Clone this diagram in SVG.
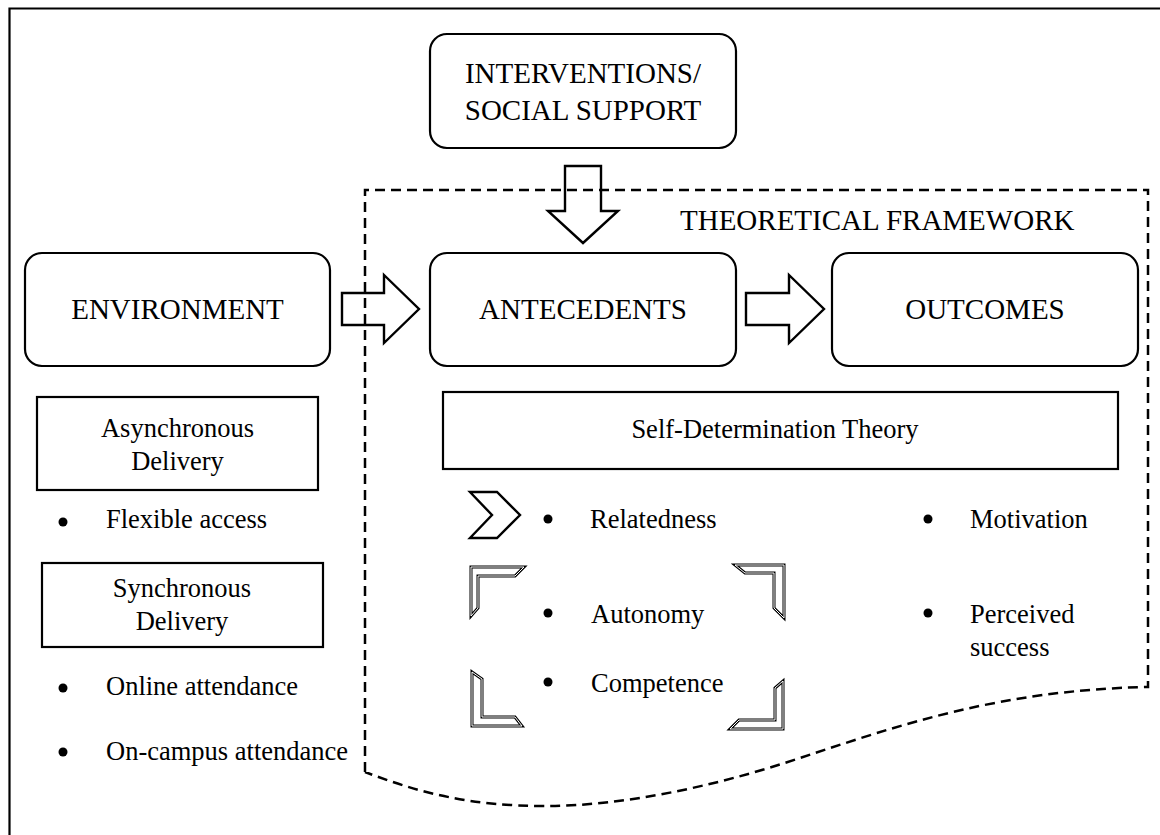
<svg xmlns="http://www.w3.org/2000/svg" width="1160" height="835" viewBox="0 0 1160 835">
<style>
text{font-family:"Liberation Serif","Times New Roman",serif;fill:#000}
.big{font-size:29px}
.sm{font-size:26.5px}
.mid{text-anchor:middle}
.box{fill:#fff;stroke:#000;stroke-width:2.2}
.arrow{fill:none;stroke:#000;stroke-width:2.4}
.dash{fill:none;stroke:#000;stroke-width:2.5;stroke-dasharray:10 6}
.brk-o{fill:#fff;stroke:#000;stroke-width:3}
.brk-i{fill:none;stroke:#fff;stroke-width:1}
</style>
<defs>
<circle id="dot" r="4.5" fill="#000"/>
</defs>
<rect width="1160" height="835" fill="#fff"/>
<path d="M9.5,835 V8.5 H1160" fill="none" stroke="#000" stroke-width="2.2"/>

<g id="framework">
<path class="dash" d="M365,772 L365,190 L1148,190 L1148,687 C1000,690 900,725 800,758 C710,788 620,806 545,806 C470,806 420,793 365,772"/>
<text class="big" x="680" y="230">THEORETICAL FRAMEWORK</text>
</g>

<g id="interventions">
<rect class="box" x="430" y="34" width="306" height="114" rx="17"/>
<text class="big mid" x="583" y="83">INTERVENTIONS/</text>
<text class="big mid" x="583" y="120">SOCIAL SUPPORT</text>
</g>

<g id="environment">
<rect class="box" x="25" y="253" width="305" height="113" rx="17"/>
<text class="big mid" x="177.5" y="319">ENVIRONMENT</text>
</g>

<g id="antecedents">
<rect class="box" x="430" y="253" width="306" height="113" rx="17"/>
<text class="big mid" x="583" y="319">ANTECEDENTS</text>
</g>

<g id="outcomes">
<rect class="box" x="832" y="253" width="306" height="113" rx="17"/>
<text class="big mid" x="985" y="319">OUTCOMES</text>
</g>

<g id="connectors">
<path class="arrow" d="M565,166 H601 V211 H618 L583,243 L548,211 H565 Z"/>
<path class="arrow" d="M342,293 H384 V275 L419,309 L384,343 V325 H342 Z"/>
<path class="arrow" d="M746,293 H789 V275 L824,309 L789,343 V325 H746 Z"/>
</g>

<g id="async">
<rect class="box" x="37" y="397" width="281" height="93"/>
<text class="sm mid" x="177.5" y="437">Asynchronous</text>
<text class="sm mid" x="177.5" y="470">Delivery</text>
</g>
<g id="flexible">
<use href="#dot" x="63" y="522"/>
<text class="sm" x="106" y="528">Flexible access</text>
</g>

<g id="sync">
<rect class="box" x="42" y="563" width="281" height="84"/>
<text class="sm mid" x="182" y="597">Synchronous</text>
<text class="sm mid" x="182" y="630">Delivery</text>
</g>
<g id="online">
<use href="#dot" x="63" y="688"/>
<text class="sm" x="106" y="695">Online attendance</text>
</g>
<g id="oncampus">
<use href="#dot" x="63" y="752"/>
<text class="sm" x="106" y="760">On-campus attendance</text>
</g>

<g id="sdt">
<rect class="box" x="443" y="392" width="675" height="77"/>
<text class="sm mid" x="775" y="438">Self-Determination Theory</text>
</g>

<g id="relatedness">
<path d="M470,492 H497 L520,515 L497,538 H470 L492,515 Z" fill="none" stroke="#000" stroke-width="2.4"/>
<use href="#dot" x="548" y="519"/>
<text class="sm" x="590" y="528">Relatedness</text>
</g>
<g id="autonomy">
<use href="#dot" x="548" y="613"/>
<text class="sm" x="591" y="623">Autonomy</text>
</g>
<g id="competence">
<use href="#dot" x="548" y="682"/>
<text class="sm" x="591" y="692">Competence</text>
</g>

<g id="brackets">
<polygon class="brk-o" points="471,567 524,567 515,576 478,576 478,608 471,616"/>
<polygon class="brk-i" points="471,567 524,567 515,576 478,576 478,608 471,616"/>
<polygon class="brk-o" points="735,565 784,565 784,618 774,608 774,573 745,573"/>
<polygon class="brk-i" points="735,565 784,565 784,618 774,608 774,573 745,573"/>
<polygon class="brk-o" points="472,672 482,679 482,717 515,717 522,726 472,726"/>
<polygon class="brk-i" points="472,672 482,679 482,717 515,717 522,726 472,726"/>
<polygon class="brk-o" points="783,681 783,729 730,729 739,720 775,720 775,688"/>
<polygon class="brk-i" points="783,681 783,729 730,729 739,720 775,720 775,688"/>
</g>

<g id="motivation">
<use href="#dot" x="928" y="519"/>
<text class="sm" x="970" y="528">Motivation</text>
</g>
<g id="perceived">
<use href="#dot" x="928" y="613"/>
<text class="sm" x="970" y="623">Perceived</text>
<text class="sm" x="970" y="656">success</text>
</g>
</svg>
